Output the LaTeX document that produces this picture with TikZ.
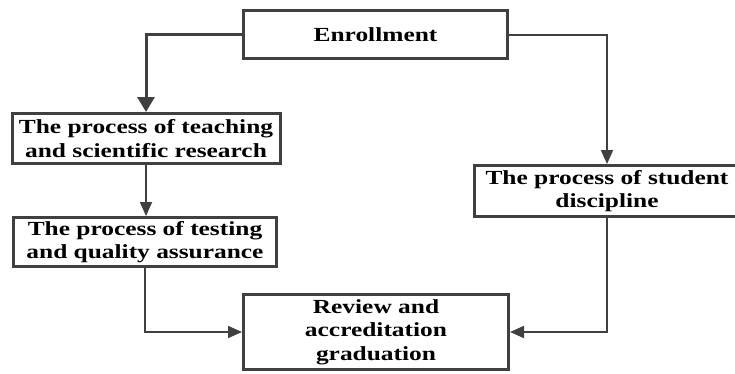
\documentclass[tikz,border=0pt]{standalone}
\usepackage{fontspec}
\setmainfont[FakeStretch=1.27]{Liberation Serif}
\usetikzlibrary{arrows.meta}
\definecolor{edge}{HTML}{404040}
\begin{document}
\begin{tikzpicture}[x=1pt,y=1pt,
  procbox/.style={draw=edge, line width=3pt, fill=white, align=center,
    inner sep=0pt, font=\fontsize{20}{23.5}\selectfont\bfseries},
  flow/.style={draw=edge, line width=1.8pt,
    -{Triangle[length=14pt,width=12pt]}},
  mainflow/.style={draw=edge, line width=3pt,
    -{Triangle[length=15pt,width=17pt]}}]
\useasboundingbox (0,0) rectangle (735,373);

\node[procbox, minimum width=264, minimum height=48] (enr) at (375.5,338) {Enrollment};
\node[procbox, minimum width=268, minimum height=50] (teach) at (146,234.5)
  {The process of teaching\\and scientific research};
\node[procbox, minimum width=263, minimum height=49] (test) at (145,131)
  {The process of testing\\and quality assurance};
\node[procbox, minimum width=265, minimum height=51] (disc) at (607,182)
  {The process of student\\discipline};
\node[procbox, minimum width=265, minimum height=75] (rev) at (376,41)
  {Review and\\accreditation\\graduation};

\draw[mainflow] (enr.west) -| (teach.north);
\draw[flow] (enr.east) -| (disc.north);
\draw[flow] (teach.south) -- (teach.south |- test.north);
\draw[flow] (test.south) |- (rev.west);
\draw[flow] (disc.south) |- (rev.east);
\end{tikzpicture}
\end{document}
